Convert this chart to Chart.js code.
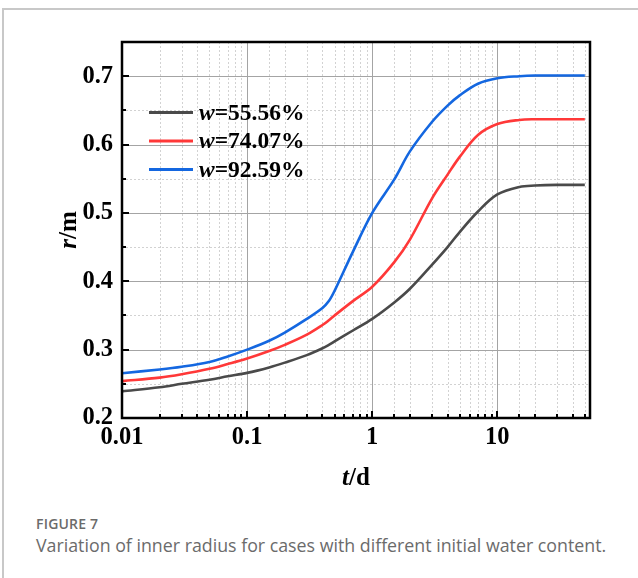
<!DOCTYPE html>
<html>
<head>
<meta charset="utf-8">
<script src="https://cdn.jsdelivr.net/npm/chart.js@4"></script>
<style>
  html, body { margin: 0; padding: 0; background: #fff; }
  body { width: 638px; height: 578px; position: relative; overflow: hidden; }
  #box { position: absolute; left: 2px; top: 8px; right: -4px; bottom: -4px;
         border-top: 2px solid #c8c8c8; border-left: 2px solid #c8c8c8; }
  #wrap { position: absolute; left: 0; top: 0; width: 638px; height: 500px; }
  #caption { position: absolute; left: 36px; top: 514px; font-family: "Open Sans", sans-serif; color: #6b6b6b; }
  #caption .fig { font-size: 14px; font-weight: 600; letter-spacing: 0.2px; line-height: 19px; }
  #caption .txt { font-size: 17.8px; line-height: 24px; }
</style>
</head>
<body>
<div id="box"></div>
<div id="wrap"><canvas id="chart" width="638" height="500"></canvas></div>
<div id="caption">
  <div class="fig">FIGURE 7</div>
  <div class="txt">Variation of inner radius for cases with different initial water content.</div>
</div>
<script>
// time (d) and inner radius r (m)
const times = [0.01, 0.02, 0.03, 0.05, 0.07, 0.1, 0.15, 0.2, 0.3, 0.4, 0.45, 0.5, 0.7,
               1, 1.5, 2, 3, 4, 5, 7, 10, 15, 20, 30, 50];
const r5556 = [0.239, 0.245, 0.250, 0.256, 0.261, 0.266, 0.274, 0.281, 0.292, 0.302, 0.307, 0.312, 0.328,
               0.345, 0.369, 0.389, 0.424, 0.450, 0.472, 0.502, 0.527, 0.538, 0.540, 0.541, 0.541];
const r7407 = [0.254, 0.259, 0.264, 0.272, 0.279, 0.287, 0.298, 0.307, 0.322, 0.336, 0.343, 0.350, 0.371,
               0.392, 0.428, 0.461, 0.521, 0.556, 0.582, 0.614, 0.630, 0.636, 0.637, 0.637, 0.637];
const r9259 = [0.2655, 0.271, 0.275, 0.282, 0.290, 0.300, 0.313, 0.325, 0.345, 0.361, 0.371, 0.386, 0.443,
               0.500, 0.549, 0.590, 0.633, 0.657, 0.672, 0.689, 0.697, 0.700, 0.701, 0.701, 0.701];
const seriesLabels = ['55.56%', '74.07%', '92.59%'];
const seriesColors = ['#4a4a4a', '#ff3838', '#1467e0'];
const seriesValues = [r5556, r7407, r9259];

const SERIF = "'Liberation Serif', 'Times New Roman', serif";

function isDecade(v) {
  const l = Math.log10(v);
  return Math.abs(l - Math.round(l)) < 1e-6;
}
function isTenth(v) {
  return Math.abs(v * 10 - Math.round(v * 10)) < 1e-6;
}

// draw "italic part" + "upright part" centred on (x, y)
function mixedText(ctx, it, rest, x, y, size) {
  ctx.font = 'italic bold ' + size + 'px ' + SERIF;
  const w1 = ctx.measureText(it).width;
  ctx.font = 'bold ' + size + 'px ' + SERIF;
  const w2 = ctx.measureText(rest).width;
  let sx = x - (w1 + w2) / 2;
  ctx.textAlign = 'left';
  ctx.textBaseline = 'middle';
  ctx.font = 'italic bold ' + size + 'px ' + SERIF;
  ctx.fillText(it, sx, y);
  ctx.font = 'bold ' + size + 'px ' + SERIF;
  ctx.fillText(rest, sx + w1, y);
}

const originFrame = {
  id: 'originFrame',
  beforeDatasetsDraw(chart) {
    const { ctx, chartArea: a, scales: { x, y } } = chart;
    ctx.save();
    ctx.lineWidth = 1;
    // minor grid (dotted)
    ctx.strokeStyle = '#d2d2d2';
    ctx.setLineDash([2, 2]);
    x.ticks.forEach(t => {
      if (t.value <= x.min || t.value >= x.max || isDecade(t.value)) return;
      const px = Math.round(x.getPixelForValue(t.value)) + 0.5;
      ctx.beginPath(); ctx.moveTo(px, a.top); ctx.lineTo(px, a.bottom); ctx.stroke();
    });
    y.ticks.forEach(t => {
      if (t.value <= y.min || t.value >= y.max || isTenth(t.value)) return;
      const py = Math.round(y.getPixelForValue(t.value)) + 0.5;
      ctx.beginPath(); ctx.moveTo(a.left, py); ctx.lineTo(a.right, py); ctx.stroke();
    });
    // major grid (solid)
    ctx.setLineDash([]);
    ctx.strokeStyle = '#a4a4a4';
    x.ticks.forEach(t => {
      if (t.value <= x.min || t.value >= x.max || !isDecade(t.value)) return;
      const px = Math.round(x.getPixelForValue(t.value)) + 0.5;
      ctx.beginPath(); ctx.moveTo(px, a.top); ctx.lineTo(px, a.bottom); ctx.stroke();
    });
    y.ticks.forEach(t => {
      if (t.value <= y.min || t.value >= y.max || !isTenth(t.value)) return;
      const py = Math.round(y.getPixelForValue(t.value)) + 0.5;
      ctx.beginPath(); ctx.moveTo(a.left, py); ctx.lineTo(a.right, py); ctx.stroke();
    });
    ctx.restore();
  },
  afterDatasetsDraw(chart) {
    const { ctx, chartArea: a, scales: { x, y } } = chart;
    ctx.save();
    // inward ticks
    ctx.strokeStyle = '#000';
    ctx.lineWidth = 2;
    x.ticks.forEach(t => {
      if (t.value <= x.min || t.value >= x.max) return;
      const px = Math.round(x.getPixelForValue(t.value));
      const len = isDecade(t.value) ? 7 : 4;
      ctx.beginPath(); ctx.moveTo(px, a.bottom); ctx.lineTo(px, a.bottom - len); ctx.stroke();
    });
    y.ticks.forEach(t => {
      if (t.value <= y.min || t.value >= y.max) return;
      const py = Math.round(y.getPixelForValue(t.value));
      const len = isTenth(t.value) ? 7 : 4;
      ctx.beginPath(); ctx.moveTo(a.left, py); ctx.lineTo(a.left + len, py); ctx.stroke();
    });
    // frame
    ctx.lineWidth = 2.5;
    ctx.strokeRect(a.left, a.top, a.right - a.left, a.bottom - a.top);

    // legend
    chart.data.datasets.forEach((ds, i) => {
      const ly = 112.5 + i * 28.5;
      ctx.strokeStyle = ds.borderColor;
      ctx.lineWidth = 3;
      ctx.beginPath(); ctx.moveTo(149, ly); ctx.lineTo(193, ly); ctx.stroke();
      ctx.fillStyle = '#000';
      ctx.textAlign = 'left';
      ctx.textBaseline = 'middle';
      ctx.font = 'italic bold 23.5px ' + SERIF;
      ctx.fillText('w', 199, ly + 1);
      const ww = ctx.measureText('w').width;
      ctx.font = 'bold 23.5px ' + SERIF;
      ctx.fillText('=' + ds.label, 199 + ww, ly + 1);
    });

    // axis titles
    ctx.fillStyle = '#000';
    mixedText(ctx, 't', '/d', (a.left + a.right) / 2, 479, 25);
    ctx.translate(70, 230);
    ctx.rotate(-Math.PI / 2);
    mixedText(ctx, 'r', '/m', 0, 0, 25);
    ctx.restore();
  }
};

new Chart(document.getElementById('chart'), {
  type: 'line',
  data: {
    datasets: seriesValues.map((vals, i) => ({
      label: seriesLabels[i],
      data: times.map((t, j) => ({ x: t, y: vals[j] })),
      borderColor: seriesColors[i],
      backgroundColor: seriesColors[i],
      borderWidth: 2.6,
      pointRadius: 0,
      tension: 0.35,
      fill: false
    }))
  },
  options: {
    responsive: false,
    animation: false,
    events: [],
    layout: { padding: { top: 42, right: 48, left: 0, bottom: 0 } },
    plugins: { legend: { display: false }, tooltip: { enabled: false } },
    scales: {
      x: {
        type: 'logarithmic',
        min: 0.01,
        max: 55,
        grid: { display: false, drawTicks: false },
        border: { display: false },
        afterFit(s) { s.height = 82; },
        ticks: {
          autoSkip: false,
          maxRotation: 0,
          padding: 5,
          color: '#000',
          font: { family: SERIF, size: 24.5, weight: 'bold' },
          callback: v => isDecade(v) && v < 50 ? String(Number(v.toPrecision(1))) : ''
        }
      },
      y: {
        type: 'linear',
        min: 0.2,
        max: 0.75,
        grid: { display: false, drawTicks: false },
        border: { display: false },
        afterFit(s) { s.width = 122; },
        ticks: {
          stepSize: 0.05,
          autoSkip: false,
          padding: 9,
          color: '#000',
          font: { family: SERIF, size: 24.5, weight: 'bold' },
          callback: v => isTenth(v) && v < 0.74 ? v.toFixed(1) : ''
        }
      }
    }
  },
  plugins: [originFrame]
});
</script>
</body>
</html>
